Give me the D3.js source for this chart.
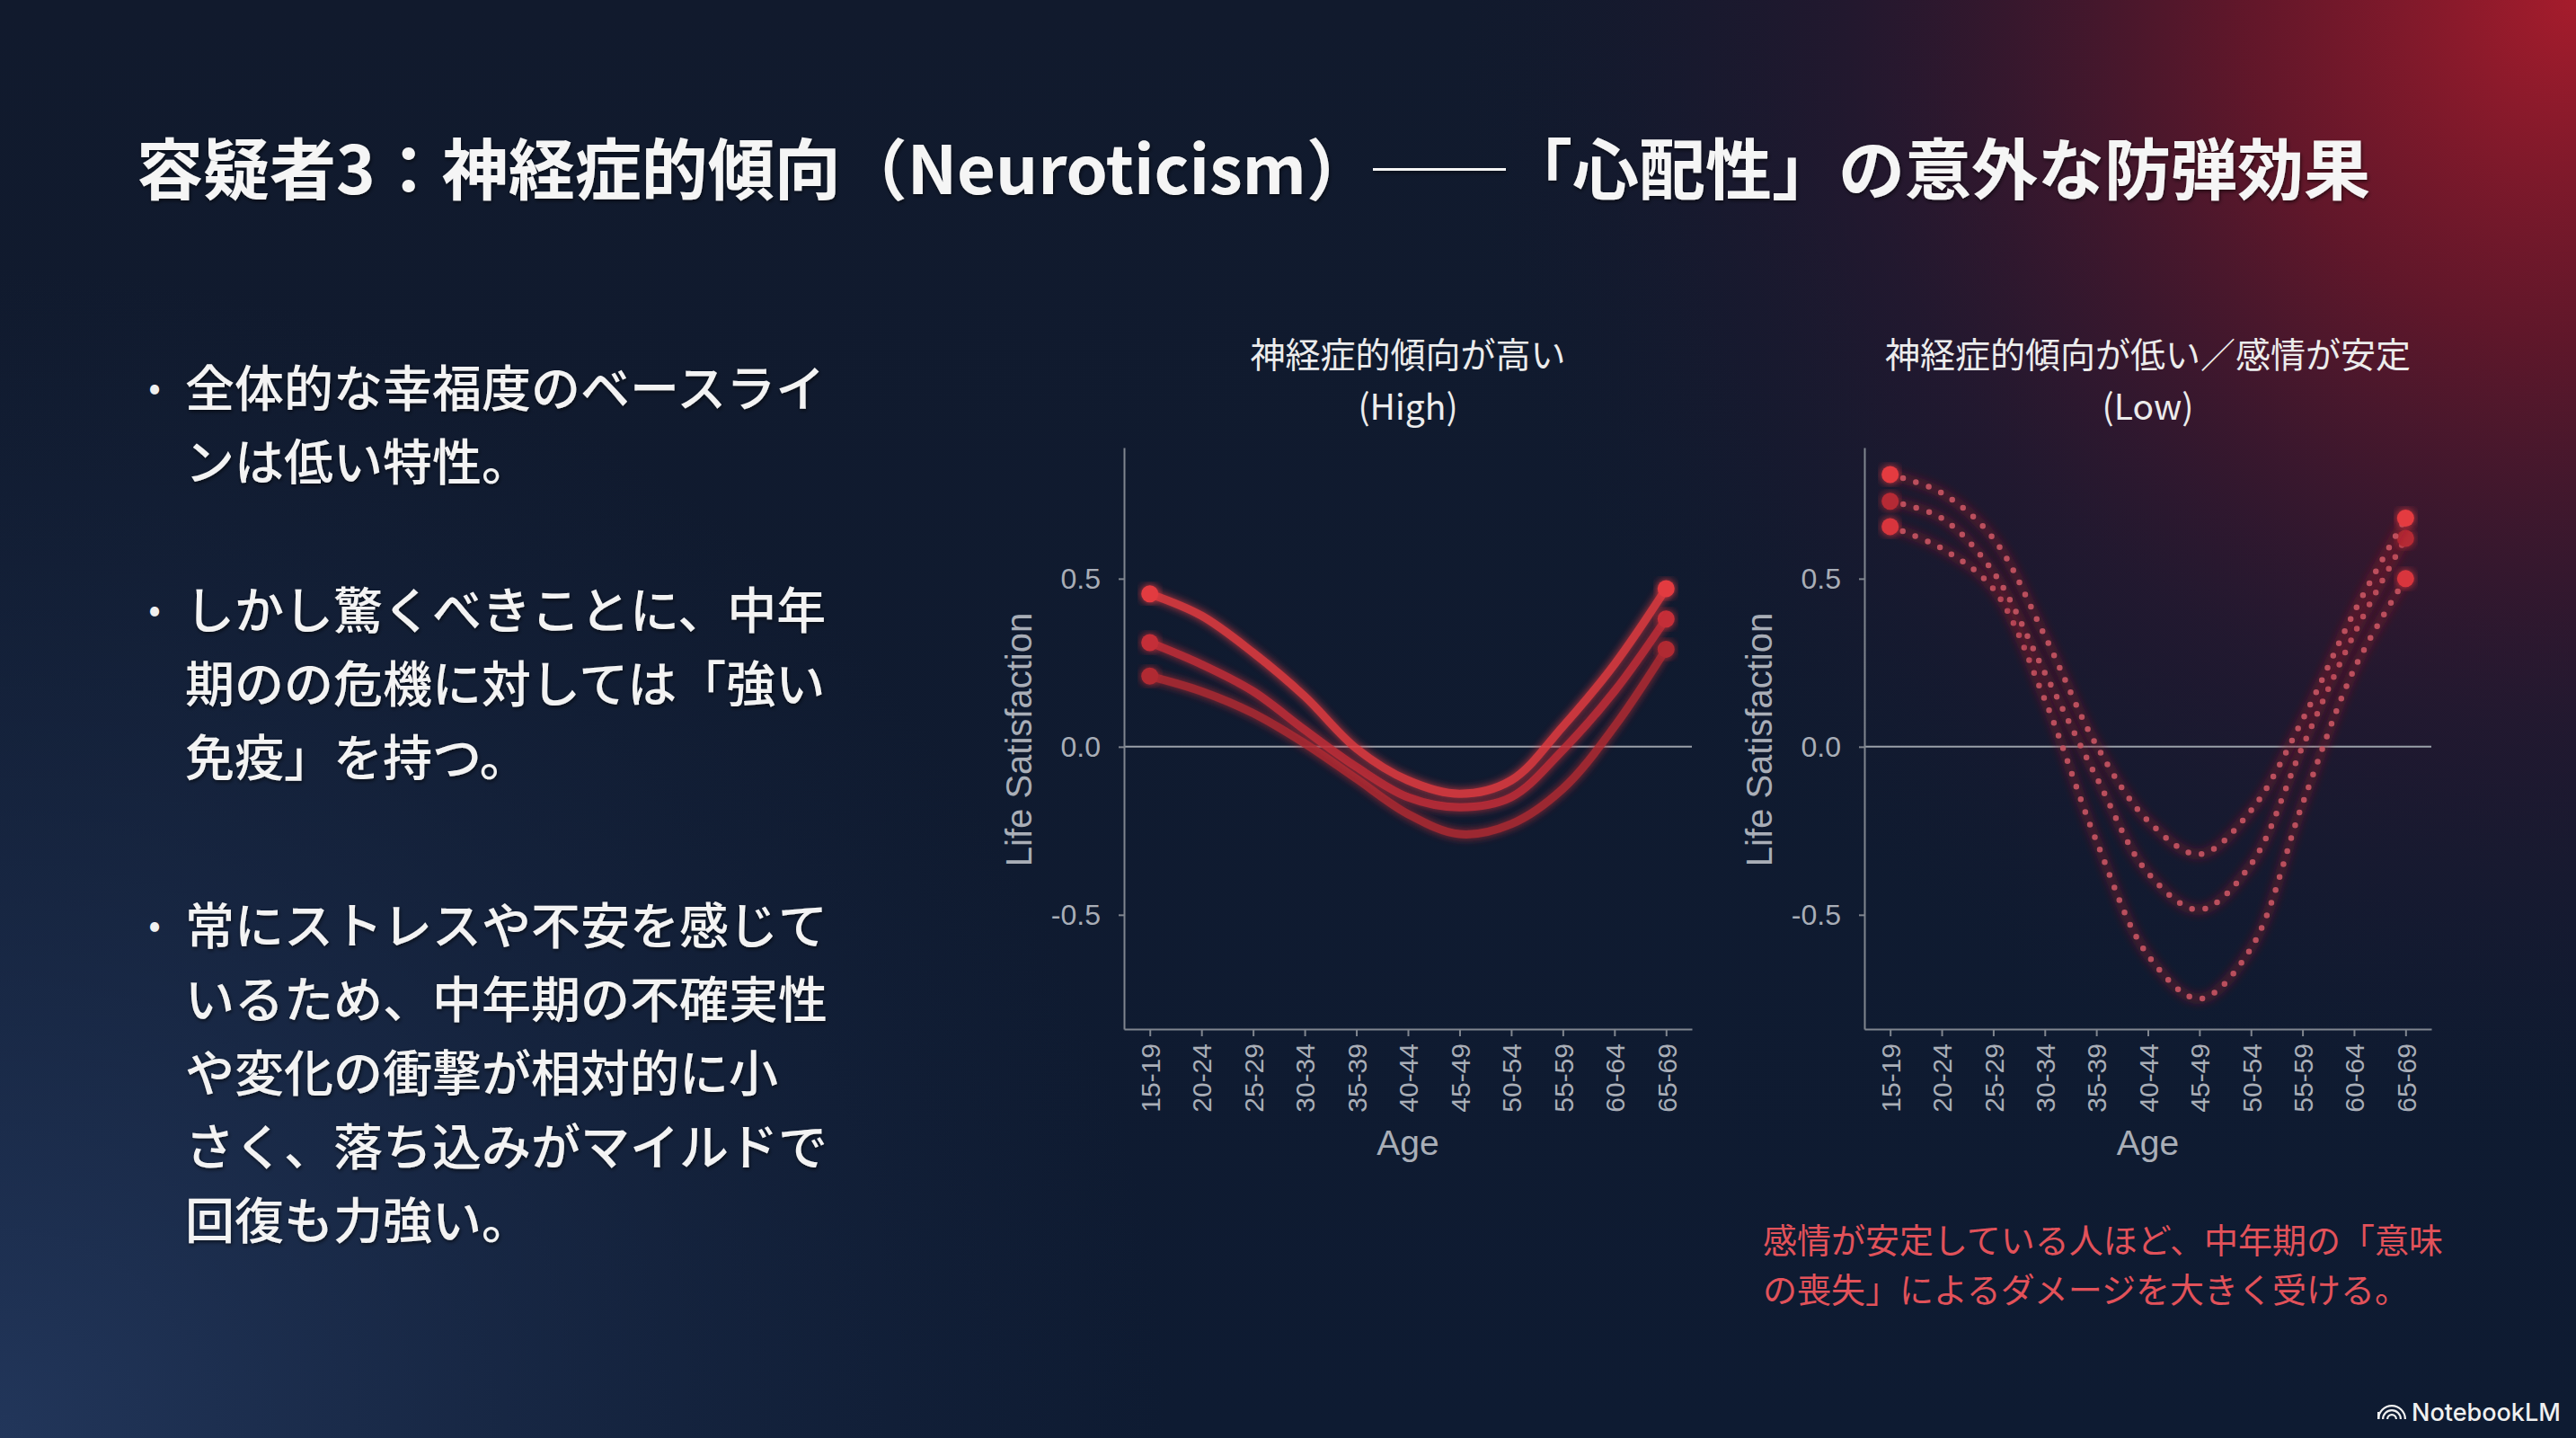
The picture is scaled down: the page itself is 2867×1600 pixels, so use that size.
<!DOCTYPE html>
<html>
<head>
<meta charset="utf-8">
<script src="https://cdn.jsdelivr.net/npm/d3@7"></script>
<style>
  body { margin: 0; background: #0f1a2e; overflow: hidden; }
  svg { display: block; }
</style>
</head>
<body>
<script>
// chart data
var ageGroups = ["15-19", "20-24", "25-29", "30-34", "35-39", "40-44", "45-49", "50-54", "55-59", "60-64", "65-69"]
var yTicks = [-0.5, 0, 0.5]

// high neuroticism (solid lines)
var highTop = [0.455, 0.39, 0.28, 0.15, -0.005, -0.10, -0.14, -0.10, 0.06, 0.245, 0.47]
var highMid = [0.31, 0.245, 0.165, 0.05, -0.06, -0.15, -0.18, -0.15, -0.01, 0.165, 0.38]
var highLow = [0.21, 0.165, 0.10, 0.01, -0.095, -0.20, -0.26, -0.23, -0.125, 0.06, 0.29]

// low neuroticism / emotionally stable (dotted lines)
var lowTop = [0.81, 0.755, 0.62, 0.33, 0.005, -0.22, -0.32, -0.19, 0.08, 0.40, 0.68]
var lowMid = [0.73, 0.68, 0.52, 0.22, -0.09, -0.375, -0.485, -0.35, 0.0, 0.335, 0.62]
var lowLow = [0.655, 0.59, 0.47, 0.14, -0.28, -0.62, -0.75, -0.60, -0.17, 0.23, 0.50]

var titleText = "容疑者3：神経症的傾向（Neuroticism）──「心配性」の意外な防弾効果"
var bullets = [
  ["全体的な幸福度のベースライ", "ンは低い特性。"],
  ["しかし驚くべきことに、中年", "期のの危機に対しては「強い", "免疫」を持つ。"],
  ["常にストレスや不安を感じて", "いるため、中年期の不確実性", "や変化の衝撃が相対的に小", "さく、落ち込みがマイルドで", "回復も力強い。"]
]
var noteLines = ["感情が安定している人ほど、中年期の「意味", "の喪失」によるダメージを大きく受ける。"]

var width = 2867
var height = 1600
var jp = "'Noto Sans CJK JP', 'Noto Sans', sans-serif"
var latin = "'Liberation Sans', Arial, sans-serif"

var svg = d3.select("body").append("svg")
  .attr("width", width)
  .attr("height", height)

var defs = svg.append("defs")

// background gradients
var base = defs.append("linearGradient").attr("id", "base")
  .attr("x1", 0).attr("y1", 0).attr("x2", 0).attr("y2", 1)
base.append("stop").attr("offset", 0).attr("stop-color", "#111a2d")
base.append("stop").attr("offset", 1).attr("stop-color", "#0e1b32")

var redGlow = defs.append("radialGradient").attr("id", "redGlow")
  .attr("gradientUnits", "userSpaceOnUse")
  .attr("cx", width).attr("cy", 0).attr("r", 1250)
redGlow.append("stop").attr("offset", 0).attr("stop-color", "#a61c2c").attr("stop-opacity", 1)
redGlow.append("stop").attr("offset", 0.3).attr("stop-color", "#741629").attr("stop-opacity", 0.8)
redGlow.append("stop").attr("offset", 0.65).attr("stop-color", "#3c1530").attr("stop-opacity", 0.4)
redGlow.append("stop").attr("offset", 1).attr("stop-color", "#1a1830").attr("stop-opacity", 0)

var blueGlow = defs.append("radialGradient").attr("id", "blueGlow")
  .attr("gradientUnits", "userSpaceOnUse")
  .attr("cx", 0).attr("cy", height).attr("r", 1300)
blueGlow.append("stop").attr("offset", 0).attr("stop-color", "#24395f").attr("stop-opacity", 0.9)
blueGlow.append("stop").attr("offset", 1).attr("stop-color", "#1a2a48").attr("stop-opacity", 0)

var glow = defs.append("filter").attr("id", "glow")
  .attr("x", "-20%").attr("y", "-20%").attr("width", "140%").attr("height", "140%")
glow.append("feGaussianBlur").attr("stdDeviation", 5).attr("result", "b")
var gm = glow.append("feMerge")
gm.append("feMergeNode").attr("in", "b")
gm.append("feMergeNode").attr("in", "SourceGraphic")

var soft = defs.append("filter").attr("id", "soft")
  .attr("x", "-20%").attr("y", "-20%").attr("width", "140%").attr("height", "140%")
soft.append("feGaussianBlur").attr("stdDeviation", 4)

var shadow = defs.append("filter").attr("id", "shadow")
shadow.append("feDropShadow").attr("dx", 1).attr("dy", 2).attr("stdDeviation", 2)
  .attr("flood-color", "#000").attr("flood-opacity", 0.6)

svg.append("rect").attr("width", width).attr("height", height).attr("fill", "url(#base)")
svg.append("rect").attr("width", width).attr("height", height).attr("fill", "url(#blueGlow)")
svg.append("rect").attr("width", width).attr("height", height).attr("fill", "url(#redGlow)")

// title
svg.append("text")
  .attr("x", 152).attr("y", 183)
  .attr("dominant-baseline", "central")
  .attr("font-family", jp).attr("font-weight", 700).attr("font-size", 74)
  .attr("fill", "#f5f5f5").attr("filter", "url(#shadow)")
  .text(titleText)

// bullet list
var bulletTops = [428, 675, 1026]
var lineGap = 82
bullets.forEach(function(lines, i) {
  svg.append("text")
    .attr("x", 172).attr("y", bulletTops[i])
    .attr("dominant-baseline", "central").attr("text-anchor", "middle")
    .attr("font-family", jp).attr("font-size", 40).attr("fill", "#f0f0f0")
    .text("•")
  lines.forEach(function(l, j) {
    svg.append("text")
      .attr("x", 206).attr("y", bulletTops[i] + j * lineGap)
      .attr("dominant-baseline", "central")
      .attr("font-family", jp).attr("font-weight", 500).attr("font-size", 55)
      .attr("fill", "#f3f3f3").attr("filter", "url(#shadow)")
      .text(l)
  })
})

// shared y scale
var y = d3.scaleLinear().domain([-0.84, 0.89]).range([1145, 498])

function drawPanel(left, right, titleLines, series, colors, dotted) {
  var x = d3.scalePoint().domain(ageGroups).range([left, right]).padding(0.5)
  var g = svg.append("g")
  var cx = (left + right) / 2

  g.append("text").attr("x", cx).attr("y", 409)
    .attr("text-anchor", "middle")
    .attr("font-family", jp).attr("font-size", 39).attr("fill", "#ececec")
    .text(titleLines[0])
  g.append("text").attr("x", cx).attr("y", 467)
    .attr("text-anchor", "middle")
    .attr("font-family", jp).attr("font-size", 39).attr("fill", "#ececec")
    .text(titleLines[1])

  // zero line
  g.append("line")
    .attr("x1", left).attr("x2", right)
    .attr("y1", y(0)).attr("y2", y(0))
    .attr("stroke", "#9aa0a9").attr("stroke-width", 2)

  var yAxis = g.append("g")
    .attr("transform", "translate(" + left + ",0)")
    .call(d3.axisLeft(y).tickValues(yTicks).tickSize(6).tickSizeOuter(0).tickPadding(20)
      .tickFormat(function(d) { return d.toFixed(1) }))
  yAxis.selectAll("text").attr("font-family", latin).attr("font-size", 32).attr("fill", "#a9aeb7")

  var xAxis = g.append("g")
    .attr("transform", "translate(0," + y.range()[0] + ")")
    .call(d3.axisBottom(x).tickSize(8).tickSizeOuter(0))
  xAxis.selectAll("text")
    .attr("transform", "rotate(-90)")
    .attr("x", -16).attr("y", 0).attr("dy", "0.36em")
    .style("text-anchor", "end")
    .attr("font-family", latin).attr("font-size", 30).attr("fill", "#a9aeb7")

  g.selectAll(".domain, .tick line").attr("stroke", "#80868f").attr("stroke-width", 2)

  g.append("text")
    .attr("transform", "translate(" + (left - 117) + ",823) rotate(-90)")
    .attr("text-anchor", "middle").attr("dominant-baseline", "central")
    .attr("font-family", latin).attr("font-size", 40).attr("fill", "#a9aeb7")
    .text("Life Satisfaction")
  g.append("text")
    .attr("x", cx).attr("y", 1271)
    .attr("text-anchor", "middle").attr("dominant-baseline", "central")
    .attr("font-family", latin).attr("font-size", 39).attr("fill", "#a9aeb7")
    .text("Age")

  var line = d3.line()
    .x(function(d, i) { return x(ageGroups[i]) })
    .y(function(d) { return y(d) })
    .curve(d3.curveCatmullRom.alpha(0.5))

  series.forEach(function(s, k) {
    if (dotted) {
      g.append("path").attr("d", line(s))
        .attr("fill", "none").attr("stroke", "#8c1a2a").attr("stroke-width", 12)
        .attr("stroke-opacity", 0.4).attr("filter", "url(#soft)")
      g.append("path").attr("d", line(s))
        .attr("fill", "none").attr("stroke", "#c95563").attr("stroke-width", 6.5)
        .attr("stroke-linecap", "round").attr("stroke-dasharray", "0 15")
        .attr("opacity", 0.9)
    } else {
      g.append("path").attr("d", line(s))
        .attr("fill", "none").attr("stroke", colors[k]).attr("stroke-width", 9)
        .attr("stroke-linecap", "round").attr("opacity", 0.88)
        .attr("filter", "url(#glow)")
    }
    var ends = [0, s.length - 1]
    g.selectAll(null).data(ends).enter().append("circle")
      .attr("cx", function(i) { return x(ageGroups[i]) })
      .attr("cy", function(i) { return y(s[i]) })
      .attr("r", 9.5)
      .attr("fill", colors[k])
      .attr("filter", "url(#glow)")
  })
}

drawPanel(1251, 1883, ["神経症的傾向が高い", "(High)"],
  [highLow, highMid, highTop], ["#b02a33", "#c42f38", "#e23a40"], false)

drawPanel(2075, 2706, ["神経症的傾向が低い／感情が安定", "(Low)"],
  [lowLow, lowMid, lowTop], ["#d8363e", "#b52a34", "#e43a40"], true)

// note under right chart
noteLines.forEach(function(l, j) {
  svg.append("text")
    .attr("x", 1962).attr("y", 1377 + j * 55)
    .attr("dominant-baseline", "central")
    .attr("font-family", jp).attr("font-size", 38).attr("fill", "#e2525a")
    .text(l)
})

// footer mark
var mark = svg.append("g").attr("transform", "translate(2662,1571)")
;[6, 11, 16].forEach(function(r) {
  mark.append("path")
    .attr("d", d3.arc()({ innerRadius: r - 2.2, outerRadius: r, startAngle: -Math.PI / 2, endAngle: Math.PI / 2 }))
    .attr("transform", "translate(0,8)")
    .attr("fill", "#f0f0f0")
})
mark.append("rect").attr("x", -16).attr("y", 0).attr("width", 2.4).attr("height", 8).attr("fill", "#f0f0f0")
svg.append("text")
  .attr("x", 2684).attr("y", 1571)
  .attr("dominant-baseline", "central")
  .attr("font-family", "Inter, Roboto, sans-serif").attr("font-weight", 500).attr("font-size", 27)
  .attr("fill", "#f0f0f0")
  .text("NotebookLM")
</script>
</body>
</html>
